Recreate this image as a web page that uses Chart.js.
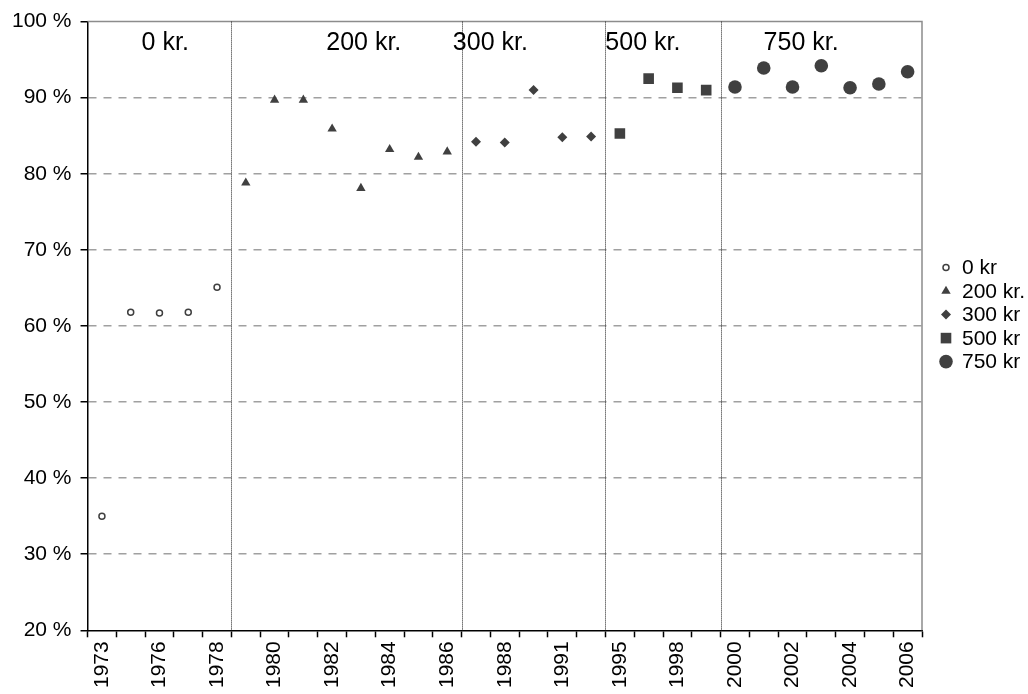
<!DOCTYPE html>
<html>
<head>
<meta charset="utf-8">
<script src="https://cdn.jsdelivr.net/npm/chart.js@4"></script>
<style>
  html, body { margin: 0; padding: 0; background: #fff; }
  #wrap { width: 1028px; height: 694px; }
</style>
</head>
<body>
<div id="wrap"><canvas id="chart"></canvas></div>
<script>
// Categories (only every other one is labelled on the axis)
const years = ["1973","1975","1976","1977","1978","1979","1980","1981","1982","1983",
  "1984","1985","1986","1987","1988","1990","1991","1994","1995","1997",
  "1998","1999","2000","2001","2002","2003","2004","2005","2006"];

// Series, one per fee level
const years0 = ["1973","1975","1976","1977","1978"];
const values0 = [35.0, 61.8, 61.7, 61.8, 65.1];
const years200 = ["1979","1980","1981","1982","1983","1984","1985","1986"];
const values200 = [78.8, 89.7, 89.7, 85.9, 78.1, 83.2, 82.2, 82.9];
const years300 = ["1987","1988","1990","1991","1994"];
const values300 = [84.2, 84.1, 91.0, 84.8, 84.9];
const years500 = ["1995","1997","1998","1999"];
const values500 = [85.3, 92.5, 91.3, 91.0];
const years750 = ["2000","2001","2002","2003","2004","2005","2006"];
const values750 = [91.4, 93.9, 91.4, 94.2, 91.3, 91.8, 93.4];

const legendNames = ["0 kr", "200 kr.", "300 kr", "500 kr", "750 kr"];
const sectionNames = ["0 kr.", "200 kr.", "300 kr.", "500 kr.", "750 kr."];

// where the section headings sit (category index) and their height (y value)
const sectionLabelAt = [2.2, 9.1, 13.5, 18.8, 24.3];
const sectionLabelY = 97.2;

const markColor = "#404040";
const fontFamily = "'Liberation Sans', Arial, sans-serif";

Chart.defaults.font.family = fontFamily;
Chart.defaults.color = "#000";

function points(xs, ys) {
  return xs.map((x, i) => ({ x: x, y: ys[i] }));
}

// group boundaries fall after the last year of each series except the last one
const groupEnds = [years0, years200, years300, years500].map(g => years.indexOf(g[g.length - 1]) + 0.5);

const overlay = {
  id: "overlay",
  beforeDatasetsDraw(chart) {
    const { ctx, chartArea, scales } = chart;
    ctx.save();
    // plot frame, top and right
    ctx.strokeStyle = "#8c8c8c";
    ctx.lineWidth = 1.5;
    ctx.beginPath();
    ctx.moveTo(chartArea.left, chartArea.top);
    ctx.lineTo(chartArea.right, chartArea.top);
    ctx.lineTo(chartArea.right, chartArea.bottom);
    ctx.stroke();

    // dotted separators between the fee periods
    ctx.strokeStyle = "#222";
    ctx.lineWidth = 1;
    ctx.setLineDash([1, 1]);
    groupEnds.forEach(v => {
      const x = Math.round(scales.x.getPixelForValue(v)) + 0.5;
      ctx.beginPath();
      ctx.moveTo(x, chartArea.top);
      ctx.lineTo(x, chartArea.bottom);
      ctx.stroke();
    });
    ctx.setLineDash([]);

    // section headings
    ctx.fillStyle = "#000";
    ctx.font = "25px " + fontFamily;
    ctx.textAlign = "center";
    ctx.textBaseline = "middle";
    sectionNames.forEach((name, i) => {
      ctx.fillText(name, scales.x.getPixelForValue(sectionLabelAt[i]), scales.y.getPixelForValue(sectionLabelY));
    });
    ctx.restore();
  },
  // legend on the right, each entry drawn with its own series' marker
  afterDraw(chart) {
    const { ctx, chartArea } = chart;
    const x = chartArea.right + 24;
    let y = chartArea.top + 246;
    ctx.save();
    ctx.font = "21px " + fontFamily;
    ctx.textAlign = "left";
    ctx.textBaseline = "middle";
    chart.data.datasets.forEach(ds => {
      ctx.fillStyle = ds.pointBackgroundColor;
      ctx.strokeStyle = ds.pointBorderColor;
      ctx.lineWidth = ds.pointBorderWidth;
      Chart.helpers.drawPoint(ctx, {
        pointStyle: ds.pointStyle,
        radius: ds.pointRadius,
        rotation: 0,
        borderWidth: ds.pointBorderWidth
      }, x, y);
      ctx.fillStyle = "#000";
      ctx.fillText(ds.label, x + 16, y + 1);
      y += 23.5;
    });
    ctx.restore();
  }
};

const ctx = document.getElementById("chart").getContext("2d");
new Chart(ctx, {
  type: "line",
  data: {
    labels: years,
    datasets: [
      {
        label: legendNames[0],
        data: points(years0, values0),
        pointStyle: "circle",
        pointRadius: 3,
        pointBorderWidth: 1.5,
        pointBackgroundColor: "#fff",
        pointBorderColor: markColor
      },
      {
        label: legendNames[1],
        data: points(years200, values200),
        pointStyle: "triangle",
        pointRadius: 5.4,
        pointBorderWidth: 0,
        pointBackgroundColor: markColor,
        pointBorderColor: markColor
      },
      {
        label: legendNames[2],
        data: points(years300, values300),
        pointStyle: "rectRot",
        pointRadius: 5,
        pointBorderWidth: 0,
        pointBackgroundColor: markColor,
        pointBorderColor: markColor
      },
      {
        label: legendNames[3],
        data: points(years500, values500),
        pointStyle: "rect",
        pointRadius: 7.5,
        pointBorderWidth: 0,
        pointBackgroundColor: markColor,
        pointBorderColor: markColor
      },
      {
        label: legendNames[4],
        data: points(years750, values750),
        pointStyle: "circle",
        pointRadius: 6.8,
        pointBorderWidth: 0,
        pointBackgroundColor: markColor,
        pointBorderColor: markColor
      }
    ].map(d => Object.assign(d, { showLine: false, borderColor: markColor, backgroundColor: d.pointBackgroundColor }))
  },
  options: {
    responsive: true,
    maintainAspectRatio: false,
    animation: false,
    layout: {
      padding: { top: 18, right: 106, left: 3, bottom: 2 }
    },
    plugins: {
      tooltip: { enabled: false },
      legend: { display: false }
    },
    scales: {
      x: {
        type: "category",
        offset: true,
        border: { display: true, color: "#000", width: 1.5 },
        grid: {
          offset: true,
          drawOnChartArea: false,
          drawTicks: true,
          tickLength: 7,
          tickColor: "#000",
          tickWidth: 1.5
        },
        ticks: {
          autoSkip: false,
          minRotation: 90,
          maxRotation: 90,
          padding: 4,
          color: "#000",
          font: { size: 21 },
          callback: function (value, index) {
            return index % 2 === 0 ? this.getLabelForValue(value) : "";
          }
        }
      },
      y: {
        min: 20,
        max: 100,
        border: { display: true, color: "#000", width: 1.5, dash: [8, 7] },
        grid: {
          color: c => (c.tick.value === 100 || c.tick.value === 20) ? "rgba(0,0,0,0)" : "#a0a0a0",
          lineWidth: 1.5,
          drawTicks: true,
          tickLength: 7,
          tickColor: "#000",
          tickWidth: 1.5,
          tickBorderDash: []
        },
        ticks: {
          stepSize: 10,
          padding: 9,
          color: "#000",
          font: { size: 21 },
          callback: v => v + " %"
        }
      }
    }
  },
  plugins: [overlay]
});
</script>
</body>
</html>
